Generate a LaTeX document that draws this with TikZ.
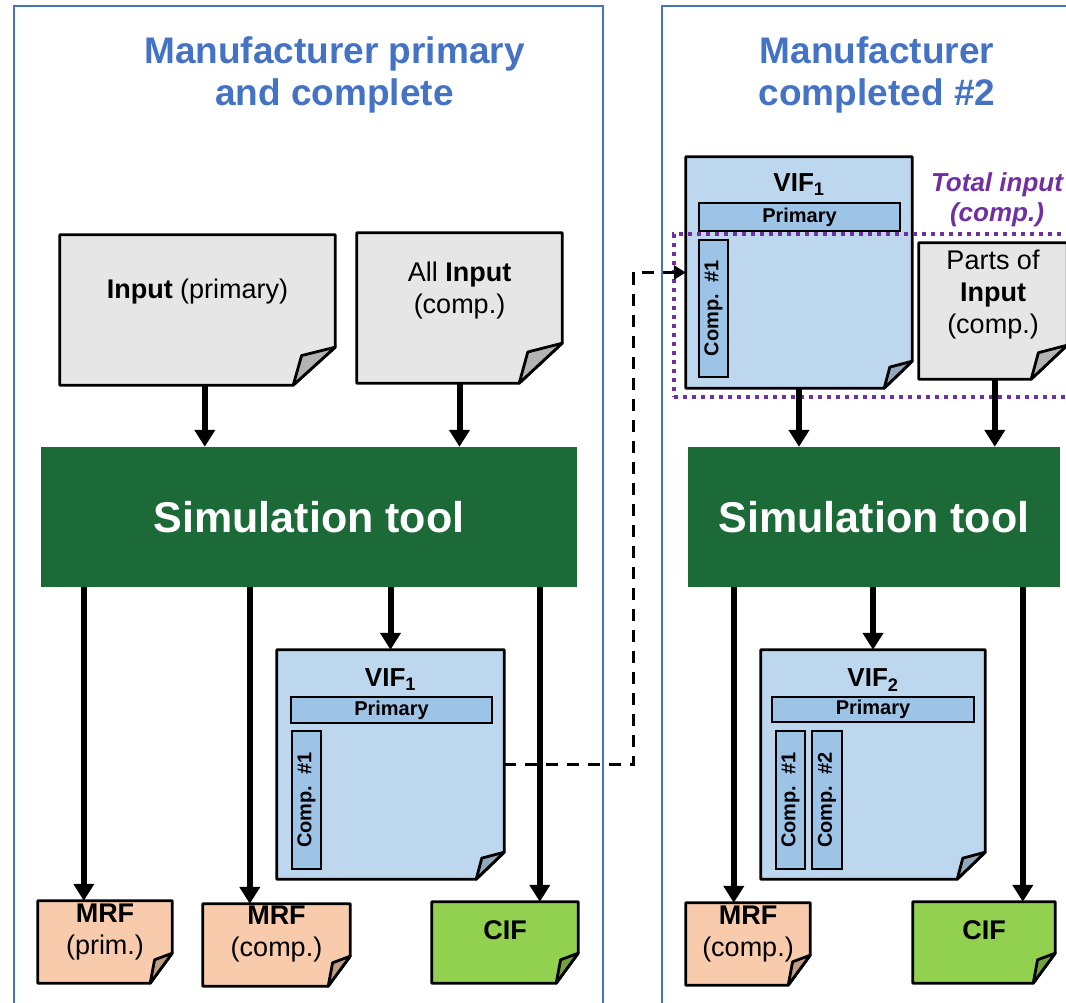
\documentclass[tikz,border=0pt]{standalone}
\usepackage{fontspec}
\setmainfont{Liberation Sans}
\usetikzlibrary{arrows.meta,backgrounds,positioning}

\definecolor{panelblue}{HTML}{4472C4}
\definecolor{simgreen}{HTML}{1B6A38}
\definecolor{inputgray}{HTML}{E6E6E6}
\definecolor{vifblue}{HTML}{BDD7EE}
\definecolor{barblue}{HTML}{9DC3E6}
\definecolor{mrforange}{HTML}{F8CBAD}
\definecolor{cifgreen}{HTML}{92D050}
\definecolor{totalpurple}{HTML}{7030A0}

% sheet outline with folded corner, put behind the node
\newcommand{\dogear}[4]{%
  \begin{pgfonlayer}{background}
    \filldraw[docline, fill=#2] (#1.north west) -- (#1.north east)
      -- ([yshift=#4]#1.south east) -- ([xshift=-#3]#1.south east)
      -- (#1.south west) -- cycle;
    \filldraw[docline, fill=#2!78!black] ([xshift=-#3]#1.south east)
      -- ([xshift=-0.8*#3, yshift=0.78*#4]#1.south east)
      -- ([yshift=#4]#1.south east) -- cycle;
  \end{pgfonlayer}}

\begin{document}
\begin{tikzpicture}[x=1pt, y=-1pt,
    panel/.style={rectangle, draw=panelblue, line width=2.5pt, inner sep=0pt},
    paneltitle/.style={align=center, text=panelblue, font=\fontsize{37}{42}\selectfont\bfseries},
    doc/.style={rectangle, inner sep=0pt},
    docline/.style={draw=black, line width=2.8pt, line join=round},
    doctext/.style={align=center, font=\fontsize{27}{32}\selectfont},
    simtool/.style={rectangle, fill=simgreen, text=white, inner sep=0pt, font=\fontsize{43}{48}\selectfont\bfseries},
    vifhead/.style={font=\fontsize{26}{30}\selectfont\bfseries},
    bar/.style={rectangle, draw=black, line width=2.5pt, fill=barblue, inner sep=0pt, font=\fontsize{20}{24}\selectfont\bfseries},
    arrow/.style={-{Triangle[width=20pt,length=17pt]}, line width=6pt},
    link/.style={-{Triangle[width=14pt,length=12pt]}, line width=3.2pt, dash pattern=on 12pt off 9pt},
    totalbox/.style={rectangle, draw=totalpurple, line width=4pt, dash pattern=on 4pt off 5pt, inner sep=0pt},
    totaltext/.style={align=center, text=totalpurple, font=\fontsize{26}{30}\selectfont\bfseries\itshape}
]
    \useasboundingbox (0,0) rectangle (1066,1003);

    % Panels
    \node[panel, minimum width=589pt, minimum height=1014pt] (panelL) at (308.5,513) {};
    \node[panel, minimum width=418pt, minimum height=1014pt] (panelR) at (871,513) {};
    \node[paneltitle] (titleL) at (334.5,75) {Manufacturer primary\\and complete};
    \node[paneltitle] (titleR) at (877,75) {Manufacturer\\completed \#2};

    % Left: inputs
    \node[doc, minimum width=275pt, minimum height=150pt,
          label={[doctext, yshift=18pt]center:{\textbf{Input} (primary)}}] (inprim) at (197.5,310) {};
    \dogear{inprim}{inputgray}{42pt}{38pt}
    \node[doc, minimum width=205pt, minimum height=150pt,
          label={[doctext, yshift=17pt]center:{All \textbf{Input}\\(comp.)}}] (allin) at (459.5,308) {};
    \dogear{allin}{inputgray}{43pt}{40pt}

    \node[simtool, minimum width=536pt, minimum height=140pt] (simL) at (309,517) {Simulation tool};

    % Left: outputs
    \node[doc, minimum width=227pt, minimum height=229pt,
          label={[vifhead, yshift=84.5pt]center:{VIF\textsubscript{1}}}] (vifL) at (390.5,764.5) {};
    \dogear{vifL}{vifblue}{28pt}{27pt}
    \node[bar, minimum width=201pt, minimum height=26pt] (primL) at (391.5,710) {Primary};
    \node[bar, rotate=90, minimum width=138pt, minimum height=29pt] (compL) at (306.5,800) {Comp.~~\#1};

    \node[doc, minimum width=134pt, minimum height=82pt,
          label={[doctext, yshift=10pt]center:{\textbf{MRF}\\(prim.)}}] (mrfprim) at (105,942) {};
    \dogear{mrfprim}{mrforange}{22pt}{30pt}
    \node[doc, minimum width=147pt, minimum height=82pt,
          label={[doctext, yshift=11pt]center:{\textbf{MRF}\\(comp.)}}] (mrfcomp) at (276.5,945) {};
    \dogear{mrfcomp}{mrforange}{22pt}{30pt}
    \node[doc, minimum width=146pt, minimum height=81pt,
          label={[doctext, yshift=12pt]center:{\textbf{CIF}}}] (cifL) at (505,942.5) {};
    \dogear{cifL}{cifgreen}{22pt}{30pt}

    % Right: inputs
    \node[doc, minimum width=226pt, minimum height=231pt,
          label={[vifhead, yshift=87.5pt]center:{VIF\textsubscript{1}}}] (vifR1) at (799,272.5) {};
    \dogear{vifR1}{vifblue}{28pt}{27pt}
    \node[bar, minimum width=201pt, minimum height=28pt] (primR1) at (799.5,217) {Primary};
    \node[bar, rotate=90, minimum width=137pt, minimum height=29pt] (compR1) at (713.5,308.5) {Comp.~~\#1};
    \node[doc, minimum width=148pt, minimum height=136pt,
          label={[doctext, yshift=16pt]center:{Parts of\\\textbf{Input}\\(comp.)}}] (partsin) at (993,311) {};
    \dogear{partsin}{inputgray}{36pt}{34pt}
    \node[totalbox, minimum width=400pt, minimum height=163pt] (totalin) at (874,315.5) {};
    \node[totaltext] (totallbl) at (997,200) {Total input\\(comp.)};

    \node[simtool, minimum width=372pt, minimum height=140pt] (simR) at (874,517) {Simulation tool};

    % Right: outputs
    \node[doc, minimum width=224pt, minimum height=229pt,
          label={[vifhead, yshift=84.5pt]center:{VIF\textsubscript{2}}}] (vifR2) at (873,764.5) {};
    \dogear{vifR2}{vifblue}{28pt}{27pt}
    \node[bar, minimum width=202pt, minimum height=25pt] (primR2) at (873,709.5) {Primary};
    \node[bar, rotate=90, minimum width=138pt, minimum height=29pt] (compR2a) at (790.5,800) {Comp.~~\#1};
    \node[bar, rotate=90, minimum width=138pt, minimum height=30pt] (compR2b) at (827,800) {Comp.~~\#2};

    \node[doc, minimum width=124pt, minimum height=82pt,
          label={[doctext, yshift=10pt]center:{\textbf{MRF}\\(comp.)}}] (mrfR) at (748,944) {};
    \dogear{mrfR}{mrforange}{22pt}{30pt}
    \node[doc, minimum width=142pt, minimum height=81pt,
          label={[doctext, yshift=12pt]center:{\textbf{CIF}}}] (cifR) at (984,942.5) {};
    \dogear{cifR}{cifgreen}{22pt}{30pt}

    % Arrows
    \draw[arrow] ([xshift=145pt]inprim.south west) -- ([xshift=145pt]inprim.south west |- simL.north);
    \draw[arrow] (allin.south) -- (allin.south |- simL.north);
    \draw[arrow] ([xshift=46pt]mrfprim.north west |- simL.south) -- ([xshift=46pt]mrfprim.north west);
    \draw[arrow] ([xshift=47pt]mrfcomp.north west |- simL.south) -- ([xshift=47pt]mrfcomp.north west);
    \draw[arrow] (vifL.north |- simL.south) -- (vifL.north);
    \draw[arrow] ([xshift=108pt]cifL.north west |- simL.south) -- ([xshift=108pt]cifL.north west);

    \draw[arrow] (vifR1.south) -- (vifR1.south |- simR.north);
    \draw[arrow] ([xshift=76pt]partsin.south west) -- ([xshift=76pt]partsin.south west |- simR.north);
    \draw[arrow] ([xshift=48pt]mrfR.north west |- simR.south) -- ([xshift=48pt]mrfR.north west);
    \draw[arrow] (vifR2.north |- simR.south) -- (vifR2.north);
    \draw[arrow] ([xshift=110pt]cifR.north west |- simR.south) -- ([xshift=110pt]cifR.north west);

    \draw[link] (vifL.east) -- ++(129pt,0) |- (vifR1.west);
\end{tikzpicture}
\end{document}
